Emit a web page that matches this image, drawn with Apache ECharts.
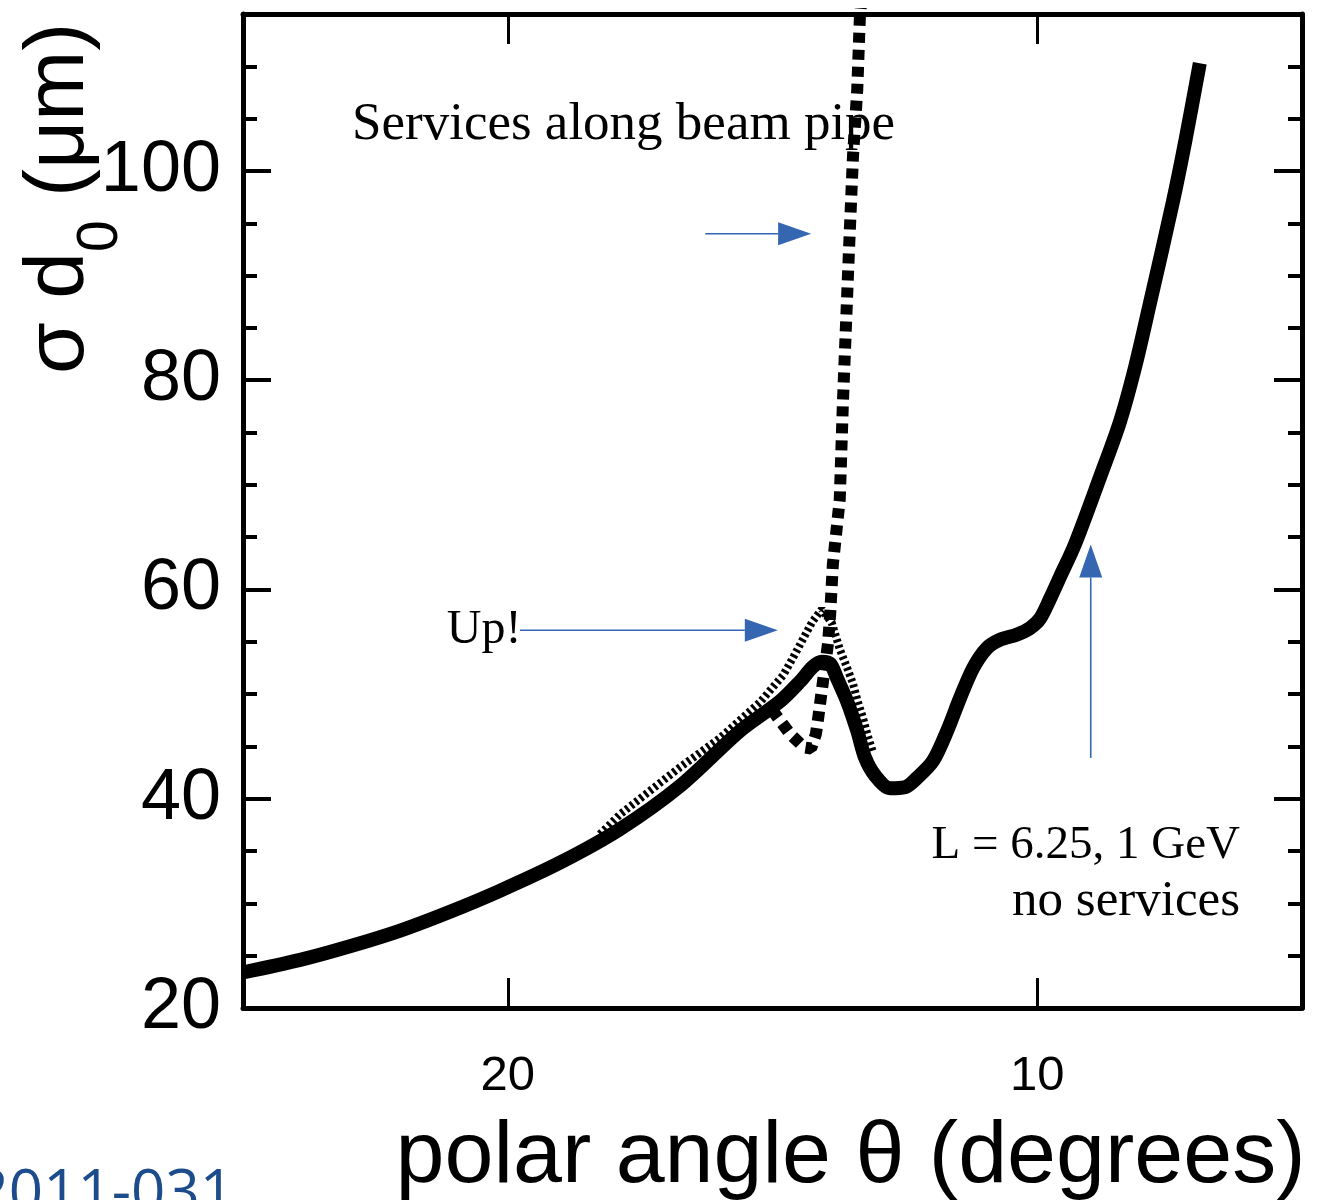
<!DOCTYPE html>
<html>
<head>
<meta charset="utf-8">
<script src="https://cdn.jsdelivr.net/npm/echarts@6/dist/echarts.min.js"></script>
<style>
  html, body { margin: 0; padding: 0; background: #ffffff; }
  #chart { width: 1319px; height: 1200px; }
</style>
</head>
<body>
<div id="chart"></div>
<script>
// Impact-parameter resolution vs polar angle (L = 6.25, 1 GeV)
const solidTheta = [25.00, 23.92, 22.98, 22.03, 21.09, 20.15, 19.01, 17.88, 16.75, 15.61,
  14.86, 14.48, 14.24, 14.07, 13.91, 13.78, 13.59, 13.40, 13.25, 13.06, 12.78, 12.50,
  12.27, 11.97, 11.70, 11.46, 11.21, 10.95, 10.70, 10.38, 10.14, 9.95, 9.76, 9.57,
  9.29, 8.81, 8.44, 8.15, 7.87, 7.44, 7.21, 6.93];
const solidSigma = [23.4, 24.6, 25.9, 27.4, 29.2, 31.2, 33.9, 37.1, 41.2, 46.5,
  49.3, 51.2, 52.6, 53.1, 52.9, 51.5, 49.3, 46.5, 43.9, 42.2, 41.0, 41.1,
  42.0, 43.6, 46.5, 49.6, 52.5, 54.4, 55.2, 55.7, 56.3, 57.2, 59.1, 61.2,
  64.3, 70.8, 76.0, 81.3, 87.4, 97.0, 102.7, 110.3];

// services routed along the beam pipe
const servicesTheta = [15.01, 14.67, 14.40, 14.27, 14.18, 14.14, 14.07, 13.95, 13.91,
  13.86, 13.73, 13.67, 13.56, 13.48, 13.40, 13.35, 13.31];
const servicesSigma = [48.5, 46.2, 44.9, 44.8, 46.2, 47.6, 50.3, 54.9, 57.7,
  62.4, 68.6, 77.9, 91.9, 101.4, 107.7, 114.7, 117.0];

// raised resolution near the transition region
const upTheta = [18.26, 17.88, 16.75, 15.99, 15.24, 14.80, 14.61, 14.42, 14.25, 14.07,
  13.88, 13.73, 13.59, 13.48, 13.39, 13.29, 13.20, 13.10];
const upSigma = [36.6, 38.5, 43.0, 45.8, 49.2, 51.8, 53.5, 55.3, 56.9, 58.1,
  56.8, 54.3, 52.5, 51.0, 49.3, 47.7, 46.0, 44.4];

const xTickValues = [10, 20];
const yMajorStep = 20;
const yMinorStep = 5;

function pairs(xs, ys) { return xs.map((x, i) => [x, ys[i]]); }

const BLUE = '#3566b2';
const SANS = '"Liberation Sans", Arial, sans-serif';
const SERIF = '"Liberation Serif", "Times New Roman", serif';

const chart = echarts.init(document.getElementById('chart'), null, { renderer: 'canvas' });

const frameLine = { show: true, onZero: false, lineStyle: { color: '#000', width: 5 } };

function xAxisDef(position, labels) {
  return {
    type: 'value', min: 5, max: 25, inverse: true, position: position,
    axisLine: frameLine,
    axisTick: { show: true, inside: true, length: 30, customValues: xTickValues,
      lineStyle: { color: '#000', width: 3 } },
    axisLabel: labels
      ? { show: true, customValues: xTickValues, margin: 44, fontSize: 49, color: '#000', fontFamily: SANS }
      : { show: false },
    splitLine: { show: false },
    name: labels ? 'polar angle θ (degrees)' : '',
    nameLocation: 'middle',
    nameGap: 106,
    nameTextStyle: { fontSize: 88, color: '#000', fontFamily: SANS, padding: [0, 0, 0, 156] }
  };
}

function yAxisDef(position, step, tickLen, labels, line) {
  return {
    type: 'value', min: 20, max: 115, interval: step, position: position,
    axisLine: line ? frameLine : { show: false },
    axisTick: { show: true, inside: true, length: tickLen, lineStyle: { color: '#000', width: 4 } },
    axisLabel: labels
      ? { show: true, margin: 22, fontSize: 72, color: '#000', fontFamily: SANS,
          showMaxLabel: false,
          formatter: v => (v % yMajorStep === 0 ? String(v) : '') }
      : { show: false },
    splitLine: { show: false },
    minorTick: { show: false }
  };
}

chart.setOption({
  animation: false,
  backgroundColor: '#ffffff',
  grid: { left: 243, right: 17, top: 14, bottom: 192, containLabel: false, outerBoundsMode: 'none' },
  xAxis: [xAxisDef('bottom', true), xAxisDef('top', false)],
  yAxis: [
    yAxisDef('left', yMajorStep, 28, true, true),
    yAxisDef('left', yMinorStep, 14, false, false),
    yAxisDef('right', yMajorStep, 28, false, true),
    yAxisDef('right', yMinorStep, 14, false, false)
  ],
  series: [
    {
      name: 'services', type: 'line', data: pairs(servicesTheta, servicesSigma),
      showSymbol: false, symbol: 'none', clip: true, z: 2,
      lineStyle: { color: '#000', width: 12, type: [10, 7], cap: 'butt' }
    },
    {
      name: 'up', type: 'line', data: pairs(upTheta, upSigma),
      showSymbol: false, symbol: 'none', clip: true, z: 3,
      lineStyle: { color: '#000', width: 8, type: [3, 3], cap: 'butt' }
    },
    {
      name: 'no services', type: 'line', data: pairs(solidTheta, solidSigma),
      showSymbol: false, symbol: 'none', clip: true, z: 4, smooth: 0.3,
      lineStyle: { color: '#000', width: 14, cap: 'butt' }
    }
  ]
});

// annotations anchored in data space
const px = (t, s) => chart.convertToPixel({ gridIndex: 0 }, [t, s]);

function arrow(from, to) {
  const a = px(from[0], from[1]);
  const b = px(to[0], to[1]);
  const dx = b[0] - a[0], dy = b[1] - a[1];
  const len = Math.hypot(dx, dy);
  const ux = dx / len, uy = dy / len;
  const headLen = 33, half = 11.5;
  const base = [b[0] - ux * headLen, b[1] - uy * headLen];
  return [
    { type: 'line', z: 10, shape: { x1: a[0], y1: a[1], x2: base[0], y2: base[1] },
      style: { stroke: BLUE, lineWidth: 1.6 } },
    { type: 'polygon', z: 10, shape: { points: [
        [b[0], b[1]],
        [base[0] - uy * half, base[1] + ux * half],
        [base[0] + uy * half, base[1] - ux * half]] },
      style: { fill: BLUE } }
  ];
}

function label(text, t, s, size, align) {
  const p = px(t, s);
  return { type: 'text', z: 10, x: p[0], y: p[1] - 0.33 * size,
    style: { text: text, fill: '#000', font: size + 'px ' + SERIF, align: align, verticalAlign: 'middle' } };
}

// vertical axis title: σ d₀ (μm), read bottom to top
const meas = document.createElement('canvas').getContext('2d');
function textWidth(str, font) { meas.font = font; return meas.measureText(str).width; }
const titleFont = '84px ' + SANS;
const subFont = '57px ' + SANS;
const w1 = textWidth('σ d', titleFont);
const w2 = textWidth('0', subFont);
const yTitle = {
  type: 'group', x: 88, y: 374, rotation: Math.PI / 2, z: 10,
  children: [
    { type: 'text', x: 0, y: -0.33 * 84,
      style: { text: 'σ d', font: titleFont, fill: '#000', align: 'left', verticalAlign: 'middle' } },
    { type: 'text', x: w1, y: 32 - 0.33 * 57,
      style: { text: '0', font: subFont, fill: '#000', align: 'left', verticalAlign: 'middle' } },
    { type: 'text', x: w1 + w2, y: -0.33 * 84,
      style: { text: ' (μm)', font: titleFont, fill: '#000', align: 'left', verticalAlign: 'middle' } }
  ]
};

const graphics = [].concat(
  arrow([16.27, 94.0], [14.27, 94.0]),
  arrow([19.77, 56.1], [14.90, 56.1]),
  arrow([8.99, 43.9], [8.99, 64.3]),
  [
    label('Services along beam pipe', 22.94, 102.7, 53, 'left'),
    label('Up!', 21.15, 54.6, 48, 'left'),
    label('L = 6.25, 1 GeV', 6.17, 34.0, 47, 'right'),
    label('no services', 6.17, 28.6, 51, 'right'),
    yTitle,
    { type: 'text', z: 10, x: 234, y: 1215 - 0.33 * 60,
      style: { text: '2011-031', fill: '#1d4c8c', font: '60px "Open Sans", sans-serif',
        align: 'right', verticalAlign: 'middle' } }
  ]
);

chart.setOption({ graphic: graphics });
</script>
</body>
</html>
